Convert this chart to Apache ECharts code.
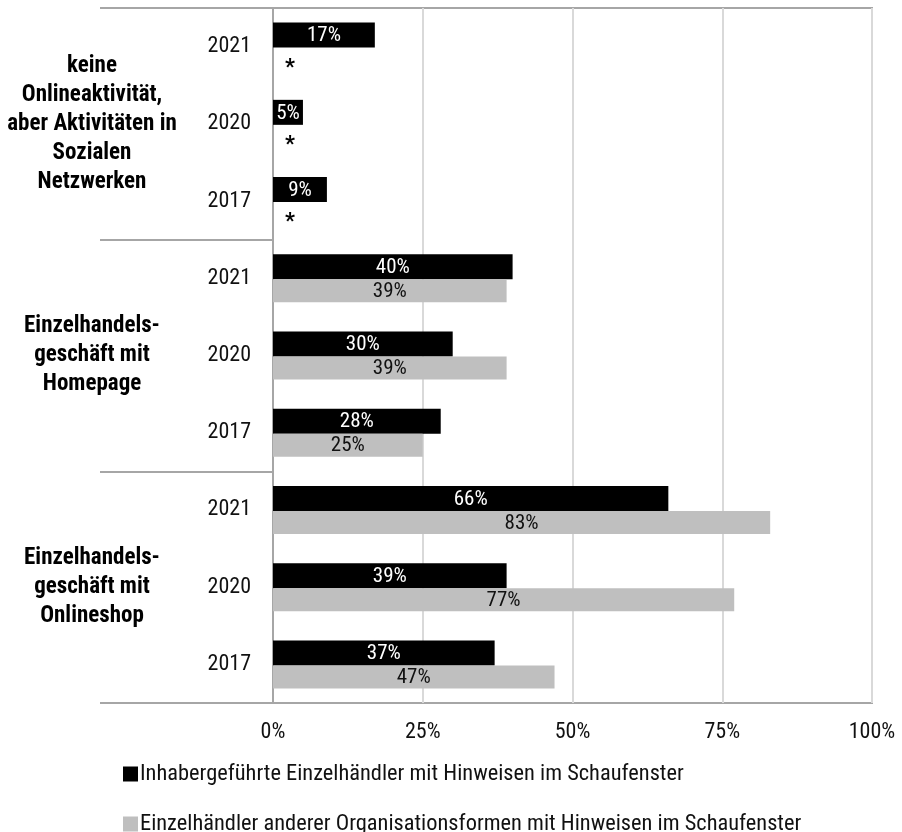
<!DOCTYPE html>
<html>
<head>
<meta charset="utf-8">
<script src="https://cdn.jsdelivr.net/npm/echarts@6/dist/echarts.min.js"></script>
<style>
  html, body { margin: 0; padding: 0; background: #fff; }
  #chart { width: 902px; height: 832px; }
</style>
</head>
<body>
<div id="chart"></div>
<script>
// Survey years per group, listed top to bottom
const years = ['2021', '2020', '2017', '2021', '2020', '2017', '2021', '2020', '2017'];

// Group headings shown to the left of the year labels
const groups = [
  'keine\nOnlineaktivität,\naber Aktivitäten in\nSozialen\nNetzwerken',
  'Einzelhandels-\ngeschäft mit\nHomepage',
  'Einzelhandels-\ngeschäft mit\nOnlineshop'
];

const seriesNames = [
  'Inhabergeführte Einzelhändler mit Hinweisen im Schaufenster',
  'Einzelhändler anderer Organisationsformen mit Hinweisen im Schaufenster'
];

// Shares in percent; null = not surveyed (marked with *)
const ownerManaged = [17, 5, 9, 40, 30, 28, 66, 39, 37];
const otherForms = [null, null, null, 39, 39, 25, 83, 77, 47];

const xTicks = [0, 25, 50, 75, 100];

const FONT = '"Roboto Condensed", "Liberation Sans", Arial, sans-serif';
const BORDER = '#a6a6a6';
const TEXT = '#111';

const otherData = otherForms.map(v => v === null
  ? { value: 0, label: { show: true, position: 'right', distance: 12, formatter: '*',
      offset: [0, 9], color: '#000', fontWeight: 'bold', fontSize: 22, fontFamily: FONT } }
  : v);

const legendBase = {
  orient: 'vertical',
  left: 118,
  itemWidth: 15, itemHeight: 15,
  icon: 'rect',
  textStyle: { fontSize: 22.4, color: TEXT, fontFamily: FONT, padding: [0, 0, 0, -3] }
};

const chart = echarts.init(document.getElementById('chart'), null, { renderer: 'canvas' });

chart.setOption({
  animation: false,
  backgroundColor: '#fff',
  textStyle: { fontFamily: FONT },
  grid: {
    left: 273, right: 30, top: 8, bottom: 129,
    show: true, borderColor: BORDER, borderWidth: 2, backgroundColor: 'transparent'
  },
  legend: [
    Object.assign({}, legendBase, { top: 758, data: [seriesNames[0]] }),
    Object.assign({}, legendBase, { top: 808, data: [seriesNames[1]] })
  ],
  xAxis: {
    type: 'value',
    min: xTicks[0], max: xTicks[xTicks.length - 1], interval: 25,
    axisLine: { show: false },
    axisTick: { show: false },
    splitLine: { show: true, lineStyle: { color: '#d9d9d9', width: 2 } },
    axisLabel: { formatter: '{value}%', fontSize: 22, color: TEXT, margin: 18, fontFamily: FONT }
  },
  yAxis: [
    {
      type: 'category',
      data: years,
      inverse: true,
      axisLine: { show: true, lineStyle: { color: BORDER, width: 2 } },
      axisTick: {
        show: true, length: 173, inside: false,
        interval: (i) => i % 3 === 0,
        lineStyle: { color: BORDER, width: 2 }
      },
      axisLabel: { fontSize: 22, color: TEXT, margin: 22, fontFamily: FONT, padding: [5, 0, 0, 0] }
    },
    {
      type: 'category',
      data: groups,
      inverse: true,
      position: 'left',
      axisLine: { show: false },
      axisTick: { show: false },
      axisLabel: {
        fontSize: 23, fontWeight: 'bold', color: '#000', align: 'center',
        margin: 181, lineHeight: 29, fontFamily: FONT, padding: [3, 0, 0, 0]
      }
    }
  ],
  series: [
    {
      name: seriesNames[0],
      type: 'bar',
      yAxisIndex: 0,
      data: ownerManaged,
      barWidth: 25,
      barGap: '0%',
      itemStyle: { color: '#000' },
      label: {
        show: true, position: 'inside', formatter: '{c}%',
        color: '#fff', fontSize: 21, fontFamily: FONT, offset: [0, 1]
      }
    },
    {
      name: seriesNames[1],
      type: 'bar',
      yAxisIndex: 0,
      data: otherData,
      barWidth: 23,
      barGap: '0%',
      itemStyle: { color: '#bfbfbf' },
      label: {
        show: true, position: 'inside', formatter: '{c}%',
        color: TEXT, fontSize: 21, fontFamily: FONT, offset: [0, 1]
      }
    }
  ]
});
</script>
</body>
</html>
